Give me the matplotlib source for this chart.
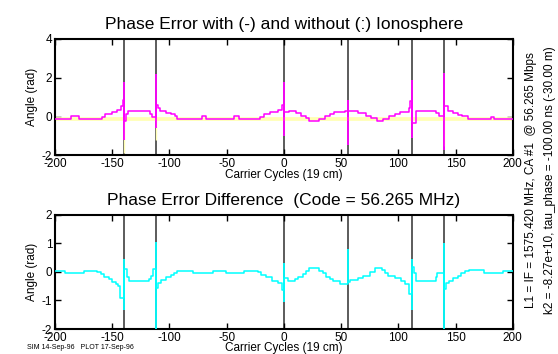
import matplotlib
matplotlib.use("Agg")
import matplotlib.pyplot as plt

plt.rcParams['font.family'] = ['Liberation Sans', 'DejaVu Sans']
plt.rcParams['axes.unicode_minus'] = False

# carrier cycle positions of the code transitions
jump_x = [-140, -112, 0, 56, 112, 140]

# phase error with ionosphere (step breakpoints, rad)
with_x = [-200, -186, -179, -159, -156, -150, -146, -142, -141,
          -140, -138, -136, -117, -115,
          -112, -110, -108, -103, -99, -95, -93, -72, -68, -44, -39,
          -21, -17, -12.5, -5, -2,
          0, 4.5, 10.4, 14.8, 19, 22, 31, 35.6, 40, 44, 53,
          56, 65, 72, 76, 81, 87, 91.6, 96.8, 101.8, 109, 110.5,
          112, 115, 133, 135.6,
          140, 143, 147.6, 152, 156, 161, 181, 183.5, 200]
with_y = [-0.1, 0.03, -0.1, 0.0, 0.12, 0.23, 0.35, 0.52, 0.86,
          -0.24, 0.12, 0.3, 0.12, -0.03,
          0.6, 0.45, 0.3, 0.2, 0.12, 0.03, -0.1, 0.03, -0.1, 0.03, -0.1,
          0.0, 0.12, 0.23, 0.35, 0.6,
          0.23, 0.3, 0.17, 0.05, -0.08, -0.24, -0.1, 0.02, 0.14, 0.23, 0.3,
          0.3, 0.17, 0.05, -0.05, -0.22, -0.1, 0.02, 0.14, 0.23, 0.43, 0.79,
          -0.33, 0.3, 0.17, 0.03,
          0.57, 0.3, 0.17, 0.1, 0.05, -0.1, 0.0, -0.1, -0.1]
with_spike_top = [1.8, 2.2, 1.8, 0.86, 1.9, 2.25]
with_spike_bot = [-1.2, -0.58, -1.0, -1.46, -1.1, -1.7]

# phase error without ionosphere
noion_x = [-200, 200]
noion_y = [-0.11, -0.11]
noion_spike_x = [-140, -112, 140]
noion_spike_bot = [-1.9, -1.2, -1.5]

# difference
diff_x = [-200, -191, -175, -163, -160, -157, -153, -150, -147, -145, -143,
          -140, -137.5, -135.5, -118, -116, -114,
          -112, -110, -107, -103, -99, -96, -93, -79, -62, -51, -35,
          -23, -20, -16, -10, -5, -2,
          0, 3.5, 9.3, 12, 16.4, 19, 22, 31, 34, 37, 40, 43, 49,
          56, 58, 65, 69, 75, 79.5, 85.4, 88, 91, 97, 102, 105.5, 109,
          112, 113.5, 115, 132.5, 134,
          140, 142, 144, 148, 152, 155, 158, 162, 175, 191, 200]
diff_y = [0.04, -0.04, 0.04, 0.0, -0.09, -0.17, -0.26, -0.35, -0.41, -0.5, -0.9,
          0.09, -0.2, -0.32, -0.26, -0.15, 0.09,
          -0.55, -0.4, -0.3, -0.2, -0.12, -0.03, 0.04, -0.04, 0.04, -0.04, 0.04,
          -0.02, -0.1, -0.19, -0.32, -0.38, -0.64,
          -0.23, -0.32, -0.26, -0.17, -0.08, 0.01, 0.12, 0.03, -0.06, -0.17,
          -0.26, -0.33, -0.41,
          -0.35, -0.28, -0.23, -0.15, 0.0, 0.12, 0.06, -0.03, -0.15, -0.23,
          -0.32, -0.41, -0.78,
          0.15, -0.03, -0.32, -0.2, -0.03,
          -0.6, -0.4, -0.32, -0.23, -0.15, -0.05, 0.01, 0.06, -0.04, 0.04, 0.04]
diff_spike_top = [0.43, 1.03, 0.32, 0.8, 0.43, 1.0]
diff_spike_bot = [-1.34, -2.0, -1.07, -0.4, -1.35, -2.0]

x_ticks = [-200, -150, -100, -50, 0, 50, 100, 150, 200]


def style_axes(ax, yticks):
    ax.set_xlim(-200, 200)
    ax.set_xticks(x_ticks)
    ax.set_yticks(yticks)
    ax.set_ylim(yticks[0], yticks[-1])
    ax.tick_params(direction='in', top=True, right=True, length=4, width=1,
                   labelsize=8.5, pad=2)
    for s in ax.spines.values():
        s.set_linewidth(1.5)
    ax.set_xlabel('Carrier Cycles (19 cm)', fontsize=8.5, labelpad=-1)
    ax.set_ylabel('Angle (rad)', fontsize=8.5, labelpad=3)


fig = plt.figure(figsize=(5.58, 3.54), dpi=100)
ax1 = fig.add_axes([0.0986, 0.561, 0.8204, 0.329])
ax2 = fig.add_axes([0.0986, 0.0706, 0.8204, 0.3234])

# top panel
ax1.vlines(jump_x, -2, 4, colors='#404040', linewidth=1.2, zorder=1)
ax1.plot(noion_x, noion_y, color='#ffffb4', linewidth=2.7, zorder=2)
ax1.vlines(noion_spike_x, noion_y[0], noion_spike_bot, colors='#ffffb4',
           linewidth=1.0, zorder=2)
ax1.step(with_x, with_y, where='post', color='#ff00ff', linewidth=1.1, zorder=3)
ax1.vlines(jump_x, with_spike_bot, with_spike_top, colors='#ff00ff',
           linewidth=1.3, zorder=3)
style_axes(ax1, [-2, 0, 2, 4])
ax1.set_title('Phase Error with (-) and without (:) Ionosphere', fontsize=12.5, pad=7)

# bottom panel
ax2.vlines(jump_x, -2, 2, colors='#404040', linewidth=1.2, zorder=1)
ax2.step(diff_x, diff_y, where='post', color='#00ffff', linewidth=1.1, zorder=3)
ax2.vlines(jump_x, diff_spike_bot, diff_spike_top, colors='#00ffff',
           linewidth=1.3, zorder=3)
style_axes(ax2, [-2, -1, 0, 1, 2])
ax2.set_title('Phase Error Difference  (Code = 56.265 MHz)', fontsize=12.5, pad=7)

fig.text(0.951, 0.49, 'L1 = IF = 1575.420 MHz, CA #1  @ 56.265 Mbps',
         rotation=90, ha='center', va='center', fontsize=8.5)
fig.text(0.986, 0.49, 'k2 = -8.27e+10, tau_phase = -100.00 ns (-30.00 m)',
         rotation=90, ha='center', va='center', fontsize=8.5)
fig.text(0.048, 0.009, 'SIM 14-Sep-96   PLOT 17-Sep-96', fontsize=5,
         ha='left', va='bottom')

fig.savefig('out.png', dpi=100)
